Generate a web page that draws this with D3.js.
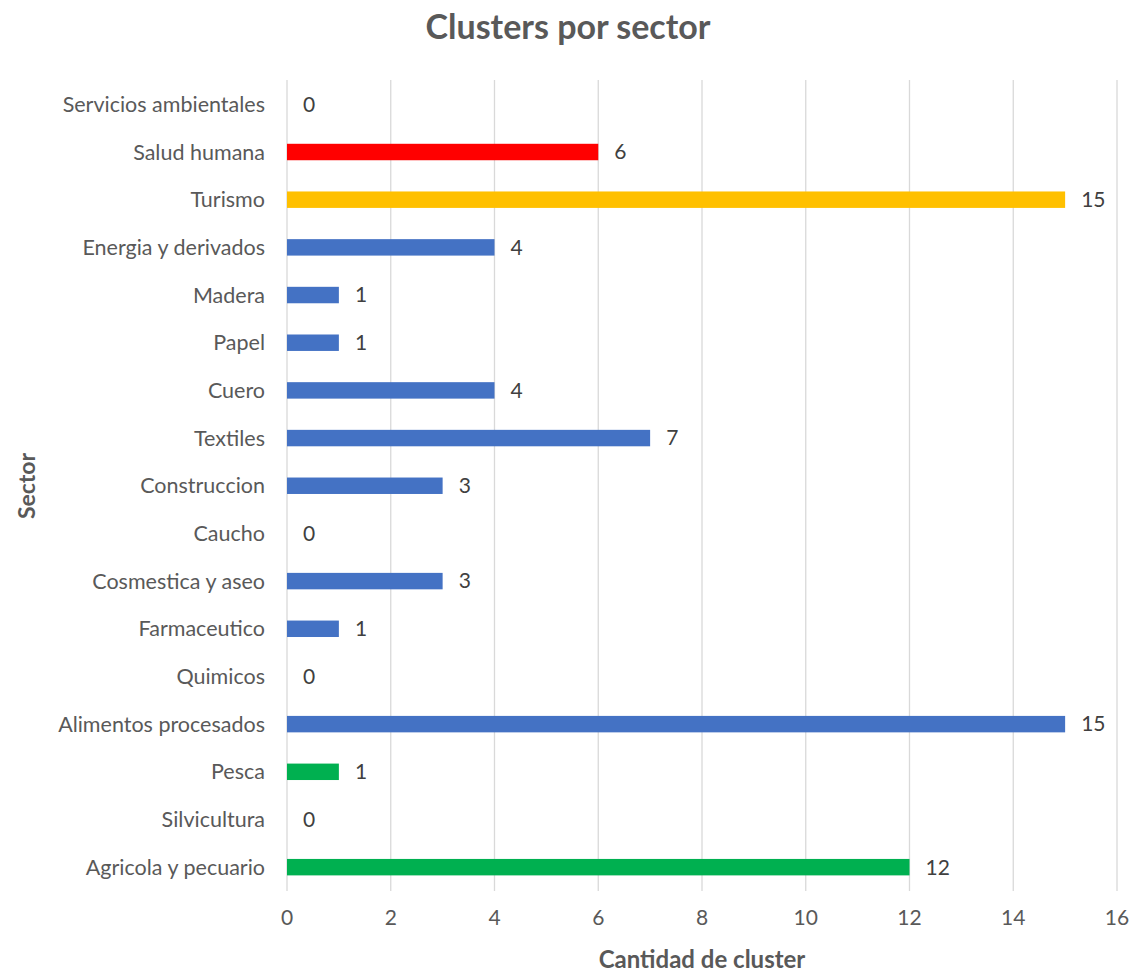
<!DOCTYPE html>
<html><head><meta charset="utf-8">
<script src="https://cdn.jsdelivr.net/npm/d3@7"></script>
<style>body{margin:0;background:#fff;} svg{display:block;}</style>
</head><body>
<script>
const categories = ["Servicios ambientales","Salud humana","Turismo","Energia y derivados","Madera","Papel","Cuero","Textiles","Construccion","Caucho","Cosmestica y aseo","Farmaceutico","Quimicos","Alimentos procesados","Pesca","Silvicultura","Agricola y pecuario"];
const values = [0,6,15,4,1,1,4,7,3,0,3,1,0,15,1,0,12];
const barColors = ["#4472C4","#FF0000","#FFC000","#4472C4","#4472C4","#4472C4","#4472C4","#4472C4","#4472C4","#4472C4","#4472C4","#4472C4","#4472C4","#4472C4","#00B050","#4472C4","#00B050"];
const xTicks = [0,2,4,6,8,10,12,14,16];

const W=1136,H=973;
const font="Lato, 'Open Sans', sans-serif";
const svg=d3.select("body").append("svg").attr("width",W).attr("height",H);
const x=d3.scaleLinear().domain([0,16]).range([287,1117]);
const y=d3.scaleBand().domain(categories).range([80.5,891]).paddingInner(0.655).paddingOuter(0.3275);

svg.append("g").selectAll("line").data(xTicks).join("line")
  .attr("x1",d=>x(d)).attr("x2",d=>x(d)).attr("y1",80).attr("y2",891)
  .attr("stroke","#d9d9d9").attr("stroke-width",1.3);

svg.append("g").selectAll("rect").data(values).join("rect")
  .attr("x",x(0)).attr("y",(d,i)=>y(categories[i]))
  .attr("width",d=>x(d)-x(0)).attr("height",y.bandwidth())
  .attr("fill",(d,i)=>barColors[i]);

svg.append("g").selectAll("text").data(values).join("text")
  .attr("x",d=>x(d)+16).attr("y",(d,i)=>y(categories[i])+y.bandwidth()/2)
  .attr("dy","0.35em").attr("font-family",font).attr("font-size",21).attr("fill","#404040")
  .text(d=>d);

svg.append("g").selectAll("text").data(categories).join("text")
  .attr("x",265).attr("y",d=>y(d)+y.bandwidth()/2).attr("dy","0.35em")
  .attr("text-anchor","end").attr("font-family",font).attr("font-size",21.5).attr("fill","#595959")
  .text(d=>d);

svg.append("g").selectAll("text").data(xTicks).join("text")
  .attr("x",d=>x(d)).attr("y",918).attr("dy","0.35em")
  .attr("text-anchor","middle").attr("font-family",font).attr("font-size",21).attr("fill","#595959")
  .text(d=>d);

svg.append("text").attr("x",568).attr("y",27).attr("dy","0.35em").attr("text-anchor","middle")
  .attr("font-family",font).attr("font-weight","bold").attr("font-size",34).attr("fill","#595959")
  .text("Clusters por sector");
svg.append("text").attr("x",702).attr("y",960).attr("dy","0.35em").attr("text-anchor","middle")
  .attr("font-family",font).attr("font-weight","bold").attr("font-size",24).attr("fill","#595959")
  .text("Cantidad de cluster");
svg.append("text").attr("transform","translate(27,486) rotate(-90)").attr("dy","0.35em").attr("text-anchor","middle")
  .attr("font-family",font).attr("font-weight","bold").attr("font-size",23).attr("fill","#595959")
  .text("Sector");
</script>
</body></html>
